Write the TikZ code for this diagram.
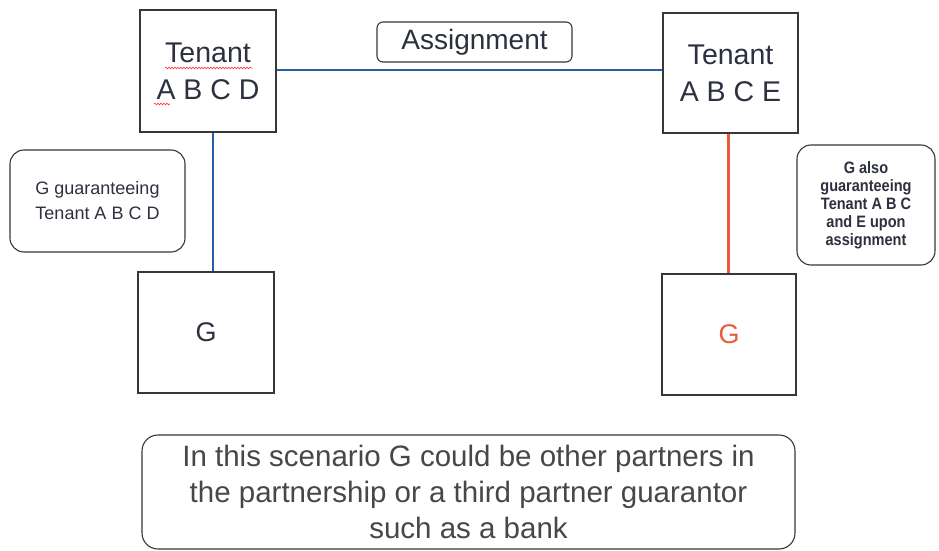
\documentclass[tikz,border=0pt]{standalone}
\usepackage{fontspec}
\setmainfont{Liberation Sans}
\newfontfamily\narrowbold[FakeStretch=0.88]{Liberation Sans Bold}
\usetikzlibrary{calc,decorations.pathmorphing}
\definecolor{lnblue}{RGB}{40,95,170}
\definecolor{lnred}{RGB}{232,92,58}
\definecolor{txt}{RGB}{45,48,62}
\definecolor{bord}{RGB}{55,55,55}
\tikzset{
  sqbox/.style={draw=bord, line width=1.4pt, fill=white, inner sep=0pt, align=center, text=txt},
  rbox/.style={draw=bord, line width=1.1pt, fill=white, rounded corners=#1, inner sep=0pt, align=center, text=txt},
  bigtxt/.style={font=\fontsize{28.5}{37}\selectfont},
  conn/.style={line width=2.2pt},
  spell/.style={draw=red!80, line width=0.6pt, decorate, decoration={snake, amplitude=0.9pt, segment length=3pt}}
}
\begin{document}
\begin{tikzpicture}[x=1pt,y=-1pt]
\useasboundingbox (0,0) rectangle (939,551);
\fill[white] (0,0) rectangle (939,551);

\node[sqbox, bigtxt, minimum width=136pt, minimum height=122pt] (tL) at (208,71) {Tenant\\A B C D};
\node[sqbox, bigtxt, minimum width=135pt, minimum height=120pt] (tR) at (730.5,73) {Tenant\\A B C E};
\node[sqbox, font=\fontsize{27}{32}\selectfont, minimum width=136pt, minimum height=121pt] (gL) at (206,332.5) {G};
\node[sqbox, text=lnred, font=\fontsize{27}{32}\selectfont, minimum width=134pt, minimum height=121pt] (gR) at (729,334.5) {G};

\node[rbox=6pt, font=\fontsize{28}{32}\selectfont, minimum width=195pt, minimum height=40pt] (asg) at (474.5,42) {Assignment};

\node[rbox=14pt, font=\fontsize{18}{25}\selectfont, minimum width=175pt, minimum height=102pt] (cL) at (97.5,201) {G guaranteeing\\Tenant A B C D};
\node[rbox=14pt, font=\narrowbold\fontsize{16.5}{18}\selectfont, minimum width=138pt, minimum height=120pt] (cR) at (866,205) {G also\\guaranteeing\\Tenant A B C\\and E upon\\assignment};

\node[rbox=16pt, text=black!72, font=\fontsize{29.5}{36}\selectfont, minimum width=653pt, minimum height=114pt] (note) at (468.5,492) {In this scenario G could be other partners in\\the partnership or a third partner guarantor\\such as a bank};

% connectors
\draw[lnblue, conn] ([yshift=1pt]tL.east) -- ([yshift=1pt]tL.east -| tR.west);
\draw[lnblue, conn] ([xshift=5pt]tL.south) -- ([xshift=5pt]tL.south |- gL.north);
\draw[lnred, conn] ([xshift=-2pt]tR.south) -- ([xshift=-2pt]tR.south |- gR.north);

% spell-check squiggles
\coordinate (s1a) at (165,68); \coordinate (s1b) at (252,68);
\coordinate (s2a) at (154,104); \coordinate (s2b) at (170,104);
\draw[spell] (s1a) -- (s1b);
\draw[spell] (s2a) -- (s2b);
\end{tikzpicture}
\end{document}
